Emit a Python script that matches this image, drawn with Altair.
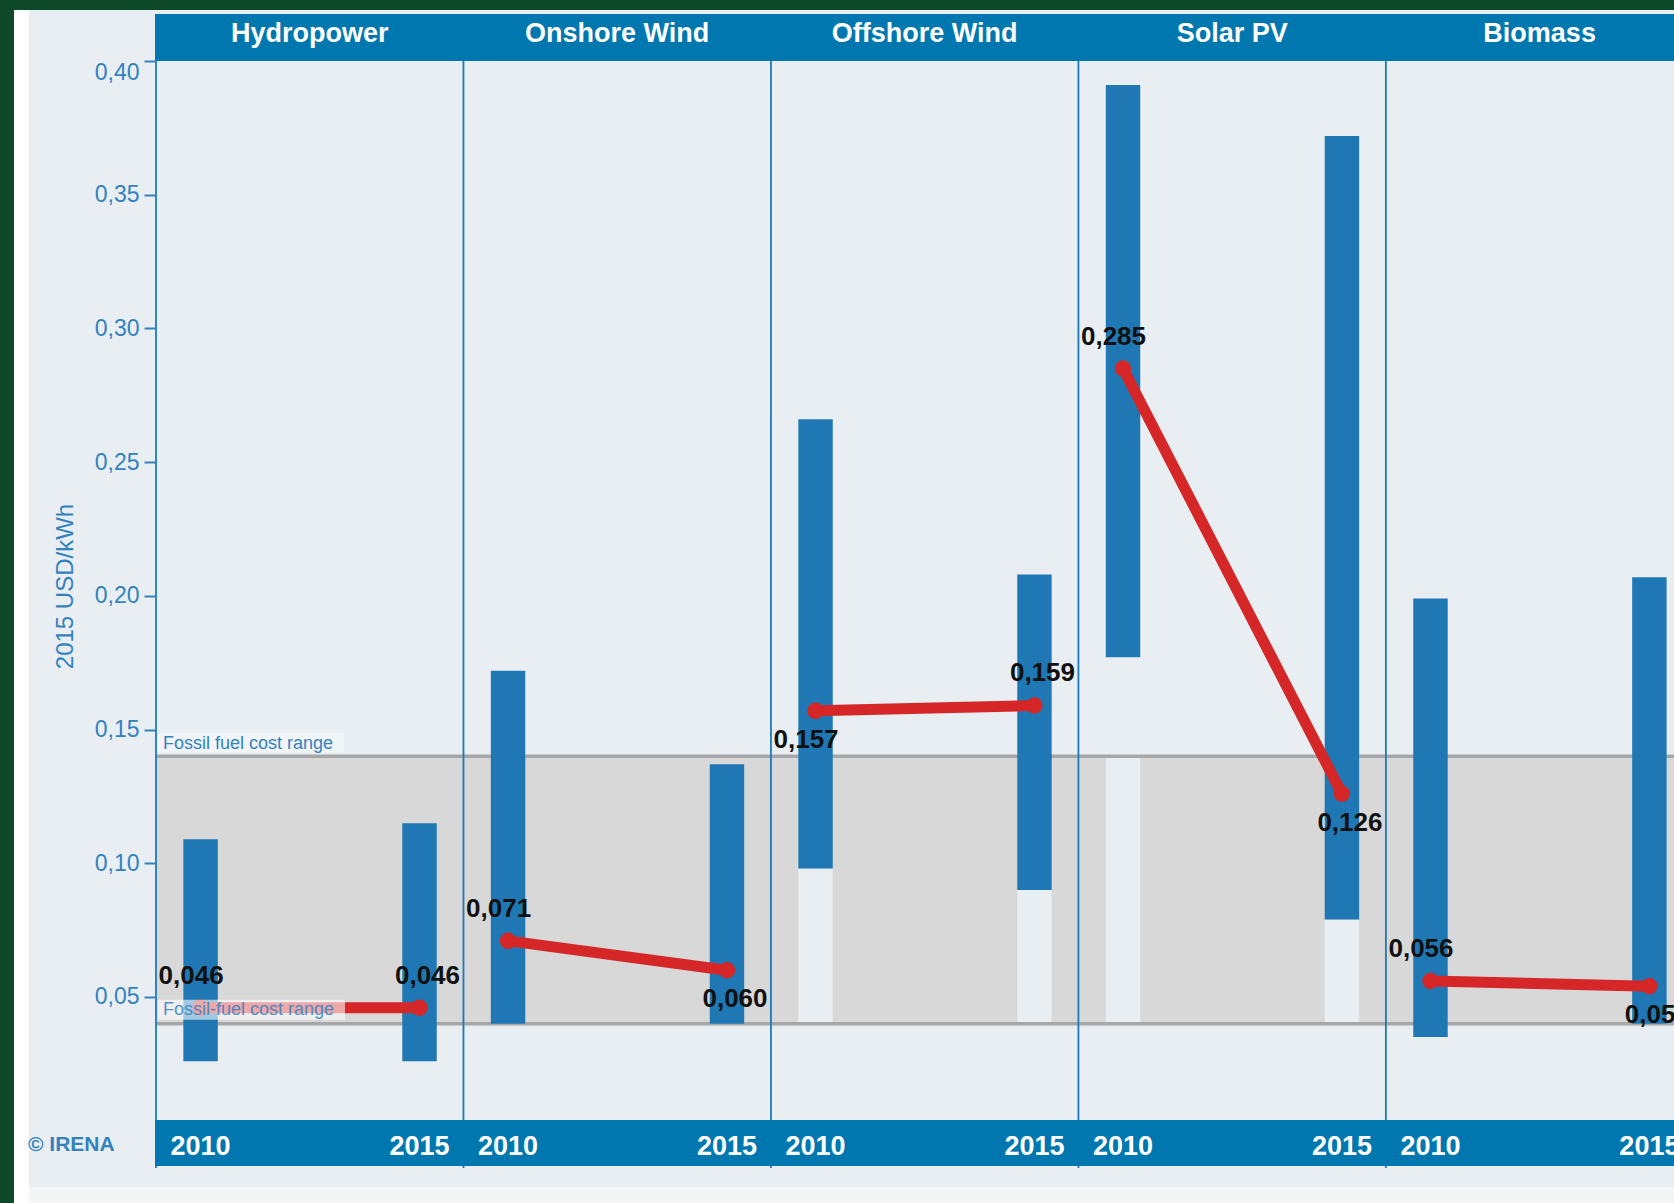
import altair as alt
import pandas as pd

# ---------------- data ----------------
techs = ["Hydropower", "Onshore Wind", "Offshore Wind", "Solar PV", "Biomass"]
years = ["2010", "2015"]
low_2010 = [0.026, 0.040, 0.098, 0.177, 0.035]
high_2010 = [0.109, 0.172, 0.266, 0.391, 0.199]
low_2015 = [0.026, 0.040, 0.090, 0.079, 0.040]
high_2015 = [0.115, 0.137, 0.208, 0.372, 0.207]
avg_2010 = [0.046, 0.071, 0.157, 0.285, 0.056]
avg_2015 = [0.046, 0.060, 0.159, 0.126, 0.054]
label_side_2010 = ["above", "above", "below", "above", "above"]
label_side_2015 = ["above", "below", "above", "below", "below"]
fossil_low = 0.040
fossil_high = 0.140
y_ticks = [0.05, 0.10, 0.15, 0.20, 0.25, 0.30, 0.35, 0.40]
y_title = "2015 USD/kWh"
fossil_label_top = "Fossil fuel cost range"
fossil_label_bottom = "Fossil-fuel cost range"
credit = "\u00a9 IRENA"

# ---------------- layout / style ----------------
W, H = 1518, 1059
X_MAX = 4.937           # panels shown (last one cut by the picture edge)
YEAR_OFFSET = {"2010": 0.145, "2015": 0.857}
BAR_HALF = 0.056
PX_PER_UNIT_Y = H / (0.40 - 0.004)

GREEN = "#0E4A29"
BG = "#E9EEF2"
HEADER = "#0078AF"
BAR = "#1F77B4"
RED = "#D62728"
BAND = "#D8D8D8"
BAND_LINE = "#A7A7A7"
BLUE_TXT = "#3282C0"
DIVIDER = "#1C7AB8"
FONT = "Liberation Sans"

rows = []
for i, t in enumerate(techs):
    for y, lo, hi, av, side in [
        ("2010", low_2010[i], high_2010[i], avg_2010[i], label_side_2010[i]),
        ("2015", low_2015[i], high_2015[i], avg_2015[i], label_side_2015[i]),
    ]:
        pos = i + YEAR_OFFSET[y]
        pale_lo = fossil_low
        pale_hi = min(lo, fossil_high)
        rows.append(dict(tech=t, idx=i, year=y, pos=pos, x1=pos - BAR_HALF, x2=pos + BAR_HALF,
                         lo=lo, hi=hi, avg=av, side=side,
                         label=f"{av:.3f}".replace(".", ","),
                         pale_lo=pale_lo, pale_hi=pale_hi))
df = pd.DataFrame(rows)
df_pale = df[df.pale_hi > df.pale_lo + 1e-9]
df_tech = pd.DataFrame({"tech": techs, "center": [i + 0.5 for i in range(len(techs))]})
df_div = pd.DataFrame({"d": list(range(len(techs)))})
one = pd.DataFrame({"k": [0]})

xscale = alt.Scale(domain=[0, X_MAX], nice=False, zero=False)
yscale = alt.Scale(domain=[0.004, 0.40], nice=False, zero=False)
yaxis = alt.Axis(
    values=y_ticks, grid=False, domain=False, zindex=5,
    labelExpr="replace(format(datum.value, '.2f'), '.', ',')",
    labelColor=BLUE_TXT, labelFontSize=23, labelFont=FONT, labelPadding=5,
    labelFlush=True,
    tickColor=BLUE_TXT, tickSize=12, tickWidth=2,
    title=y_title, titleColor=BLUE_TXT, titleFontSize=24, titleFont=FONT,
    titleFontWeight="normal", titleX=-91, titleY=525, titleAngle=-90,
    titleAlign="center", titleBaseline="middle",
)

def X(f):
    return alt.X(f, type="quantitative", scale=xscale, axis=None)

def Y(f):
    return alt.Y(f, type="quantitative", scale=yscale, axis=yaxis)

layers = []

# page decoration
layers.append(alt.Chart(one).mark_rect(color="#FFFFFF").encode(
    x=alt.value(-142), x2=alt.value(-127), y=alt.value(-51), y2=alt.value(1142)))
layers.append(alt.Chart(one).mark_rect(color=BG).encode(
    x=alt.value(-127), x2=alt.value(W), y=alt.value(-51), y2=alt.value(1126)))
layers.append(alt.Chart(one).mark_rect(color="#F4F5F5").encode(
    x=alt.value(-127), x2=alt.value(W), y=alt.value(1126), y2=alt.value(1142)))

# fossil fuel band
df_band = pd.DataFrame({"flo": [fossil_low], "fhi": [fossil_high]})
layers.append(alt.Chart(df_band).mark_rect(color=BAND).encode(
    x=alt.value(0), x2=alt.value(W), y=Y("flo"), y2="fhi"))

# pale (hidden) part of bars inside the band
layers.append(alt.Chart(df_pale).mark_rect(color=BG).encode(
    x=X("x1"), x2="x2", y=Y("pale_lo"), y2="pale_hi"))

# band border lines
df_bl = pd.DataFrame({"v": [fossil_low, fossil_high]})
layers.append(alt.Chart(df_bl).mark_rule(color=BAND_LINE, strokeWidth=3.5).encode(
    x=alt.value(0), x2=alt.value(W), y=Y("v")))

# range bars
layers.append(alt.Chart(df).mark_rect(color=BAR).encode(
    x=X("x1"), x2="x2", y=Y("lo"), y2="hi"))

# panel dividers
layers.append(alt.Chart(df_div).mark_rule(color=DIVIDER, strokeWidth=1.8).encode(
    x=X("d"), y=alt.value(0), y2=alt.value(H + 48)))

# weighted averages
layers.append(alt.Chart(df).mark_line(color=RED, strokeWidth=11, strokeCap="round").encode(
    x=X("pos"), y=Y("avg"), detail="tech:N"))
layers.append(alt.Chart(df).mark_circle(color=RED, size=270, opacity=1).encode(
    x=X("pos"), y=Y("avg")))

# fossil fuel labels
top_box = pd.DataFrame({"b1": [fossil_high + 4 / PX_PER_UNIT_Y], "b2": [fossil_high + 23 / PX_PER_UNIT_Y],
                        "t": [fossil_high + 12 / PX_PER_UNIT_Y], "txt": [fossil_label_top]})
bot_box = pd.DataFrame({"b1": [fossil_low + 4 / PX_PER_UNIT_Y], "b2": [fossil_low + 24 / PX_PER_UNIT_Y],
                        "t": [fossil_low + 14 / PX_PER_UNIT_Y], "txt": [fossil_label_bottom]})
layers.append(alt.Chart(top_box).mark_rect(color="#F2F5F8").encode(
    x=alt.value(2), x2=alt.value(188), y=Y("b1"), y2="b2"))
layers.append(alt.Chart(top_box).mark_text(align="left", baseline="middle", fontSize=18, font=FONT,
                                           color=BLUE_TXT).encode(
    x=alt.value(7), y=Y("t"), text="txt:N"))
layers.append(alt.Chart(bot_box).mark_rect(color="#FFFFFF", opacity=0.6).encode(
    x=alt.value(2), x2=alt.value(189), y=Y("b1"), y2="b2"))
layers.append(alt.Chart(bot_box).mark_text(align="left", baseline="middle", fontSize=18, font=FONT,
                                           color=BLUE_TXT, opacity=0.85).encode(
    x=alt.value(7), y=Y("t"), text="txt:N"))

# value labels
for yr, dx in [("2010", -9.5), ("2015", 8)]:
    for side, dy in [("above", -32), ("below", 29)]:
        layers.append(alt.Chart(df).transform_filter(
            (alt.datum.year == yr) & (alt.datum.side == side)
        ).mark_text(dx=dx, dy=dy, fontSize=26, fontWeight="bold", font=FONT, color="#111111",
                    align="center", baseline="middle").encode(
            x=X("pos"), y=Y("avg"), text="label:N"))

# header band and titles
layers.append(alt.Chart(one).mark_rect(color=HEADER).encode(
    x=alt.value(-1), x2=alt.value(W), y=alt.value(-47), y2=alt.value(0)))
layers.append(alt.Chart(df_tech).mark_text(fontSize=27, fontWeight="bold", font=FONT, color="white",
                                           align="center", baseline="middle").encode(
    x=X("center"), y=alt.value(-27), text="tech:N"))

# bottom band and year labels
layers.append(alt.Chart(one).mark_rect(color=HEADER).encode(
    x=alt.value(-1), x2=alt.value(W), y=alt.value(H), y2=alt.value(H + 46)))
layers.append(alt.Chart(df).mark_text(fontSize=27, fontWeight="bold", font=FONT, color="white",
                                      align="center", baseline="middle").encode(
    x=X("pos"), y=alt.value(H + 27), text="year:N"))

# credit
layers.append(alt.Chart(one).mark_text(text=credit, fontSize=21, fontWeight="bold", font=FONT,
                                       color=BLUE_TXT, align="left", baseline="middle").encode(
    x=alt.value(-128), y=alt.value(1084)))

chart = alt.layer(*layers).properties(
    width=W, height=H,
    autosize=alt.AutoSizeParams(type="none"),
    padding={"left": 156, "top": 61, "right": 0, "bottom": 83},
    background=GREEN,
).configure_view(strokeWidth=0)

chart.save("out.html", embed_options={"renderer": "svg", "actions": False})
